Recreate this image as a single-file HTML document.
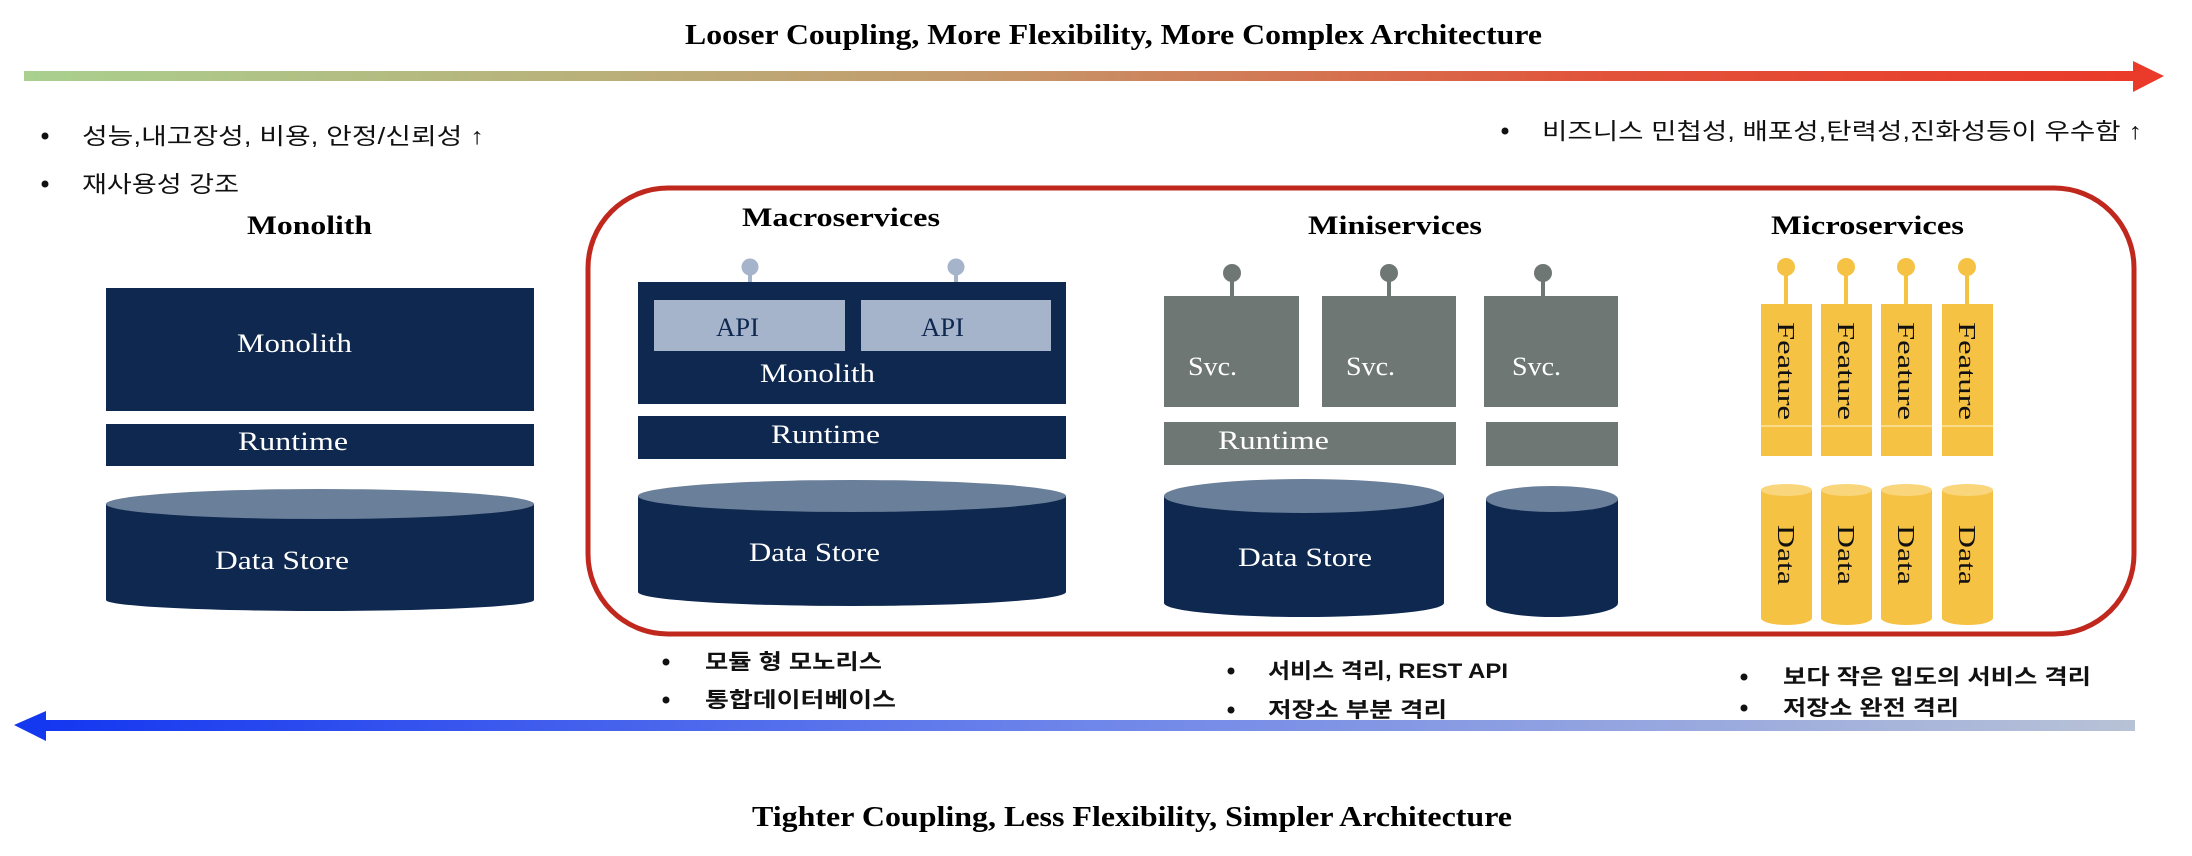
<!DOCTYPE html>
<html><head><meta charset="utf-8"><style>html,body{margin:0;padding:0;background:#fff}svg{display:block}</style></head>
<body>
<svg width="2192" height="856" viewBox="0 0 2192 856" xmlns="http://www.w3.org/2000/svg">
<defs>
<linearGradient id="gt" x1="0" x2="1"><stop offset="0" stop-color="#a9d08e"/><stop offset="0.45" stop-color="#c49a6c"/><stop offset="0.75" stop-color="#e2523a"/><stop offset="1" stop-color="#ea3a2a"/></linearGradient>
<linearGradient id="gb" x1="0" x2="1"><stop offset="0" stop-color="#1437f0"/><stop offset="0.5" stop-color="#6f86ea"/><stop offset="1" stop-color="#b8c2d6"/></linearGradient>
</defs>
<g font-family="Liberation Serif, serif" font-weight="bold" fill="#000">
<text x="685" y="44" font-size="28" textLength="857" lengthAdjust="spacingAndGlyphs">Looser Coupling, More Flexibility, More Complex Architecture</text>
<text x="752" y="826" font-size="28" textLength="760" lengthAdjust="spacingAndGlyphs">Tighter Coupling, Less Flexibility, Simpler Architecture</text>
<text x="247" y="234" font-size="26" textLength="125" lengthAdjust="spacingAndGlyphs">Monolith</text>
<text x="742" y="226" font-size="26" textLength="198" lengthAdjust="spacingAndGlyphs">Macroservices</text>
<text x="1308" y="234" font-size="26" textLength="174" lengthAdjust="spacingAndGlyphs">Miniservices</text>
<text x="1771" y="234" font-size="26" textLength="193" lengthAdjust="spacingAndGlyphs">Microservices</text>
</g>
<rect x="24" y="71" width="2112" height="10" fill="url(#gt)"/>
<polygon points="2133,61 2164,76 2133,92" fill="#ea3a2a"/>
<rect x="44" y="720" width="2091" height="11" fill="url(#gb)"/>
<polygon points="14,725 46,711 46,741" fill="#1437f0"/>
<g font-family="Liberation Sans, Noto Sans CJK KR, sans-serif" font-size="23" fill="#111">
<circle cx="45" cy="136" r="3.5"/><text x="82" y="144" textLength="402" lengthAdjust="spacingAndGlyphs">성능,내고장성, 비용, 안정/신뢰성 ↑</text>
<circle cx="45" cy="184" r="3.5"/><text x="82" y="192" textLength="157" lengthAdjust="spacingAndGlyphs">재사용성 강조</text>
<circle cx="1505" cy="131" r="3.5"/><text x="1542" y="139" textLength="600" lengthAdjust="spacingAndGlyphs">비즈니스 민첩성, 배포성,탄력성,진화성등이 우수함 ↑</text>
</g>
<g font-family="Liberation Sans, Noto Sans CJK KR, sans-serif" font-size="21" font-weight="bold" fill="#111">
<circle cx="666" cy="662" r="3.5"/><text x="705" y="669" textLength="177" lengthAdjust="spacingAndGlyphs">모듈 형 모노리스</text>
<circle cx="666" cy="700" r="3.5"/><text x="705" y="707" textLength="191" lengthAdjust="spacingAndGlyphs">통합데이터베이스</text>
<circle cx="1231" cy="671" r="3.5"/><text x="1268" y="678" textLength="240" lengthAdjust="spacingAndGlyphs">서비스 격리, REST API</text>
<circle cx="1231" cy="710" r="3.5"/><text x="1268" y="717" textLength="179" lengthAdjust="spacingAndGlyphs">저장소 부분 격리</text>
<circle cx="1744" cy="677" r="3.5"/><text x="1783" y="684" textLength="308" lengthAdjust="spacingAndGlyphs">보다 작은 입도의 서비스 격리</text>
<circle cx="1744" cy="708" r="3.5"/><text x="1783" y="715" textLength="176" lengthAdjust="spacingAndGlyphs">저장소 완전 격리</text>
</g>
<rect x="588" y="188" width="1546" height="446" rx="80" ry="80" fill="none" stroke="#c0281e" stroke-width="5"/>
<rect x="106" y="288" width="428" height="123" fill="#0e2850"/>
<rect x="106" y="424" width="428" height="42" fill="#0e2850"/>
<path d="M106 504 L106 600 A214 11 0 0 0 534 600 L534 504 Z" fill="#0e2850"/>
<ellipse cx="320" cy="504" rx="214" ry="15" fill="#6a7f99"/>
<g font-family="Liberation Serif, serif" font-size="26" fill="#fff">
<text x="237" y="352" textLength="115" lengthAdjust="spacingAndGlyphs">Monolith</text>
<text x="238" y="450" textLength="110" lengthAdjust="spacingAndGlyphs">Runtime</text>
<text x="215" y="569" textLength="134" lengthAdjust="spacingAndGlyphs">Data Store</text>
</g>
<line x1="750" y1="267" x2="750" y2="300" stroke="#a6b4cb" stroke-width="4"/>
<line x1="956" y1="267" x2="956" y2="300" stroke="#a6b4cb" stroke-width="4"/>
<rect x="638" y="282" width="428" height="122" fill="#0e2850"/>
<rect x="654" y="300" width="191" height="51" fill="#a6b4cb"/>
<rect x="861" y="300" width="190" height="51" fill="#a6b4cb"/>
<circle cx="750" cy="267" r="8.5" fill="#a6b4cb"/><circle cx="956" cy="267" r="8.5" fill="#a6b4cb"/>
<rect x="638" y="416" width="428" height="43" fill="#0e2850"/>
<path d="M638 496 L638 592 A214 14 0 0 0 1066 592 L1066 496 Z" fill="#0e2850"/>
<ellipse cx="852" cy="496" rx="214" ry="16" fill="#6a7f99"/>
<g font-family="Liberation Serif, serif" font-size="26" fill="#fff">
<text x="716" y="336" fill="#0e2850" textLength="43" lengthAdjust="spacingAndGlyphs">API</text>
<text x="921" y="336" fill="#0e2850" textLength="43" lengthAdjust="spacingAndGlyphs">API</text>
<text x="760" y="382" textLength="115" lengthAdjust="spacingAndGlyphs">Monolith</text>
<text x="771" y="443" textLength="109" lengthAdjust="spacingAndGlyphs">Runtime</text>
<text x="749" y="561" textLength="131" lengthAdjust="spacingAndGlyphs">Data Store</text>
</g>
<g fill="#6f7775">
<line x1="1232" y1="273" x2="1232" y2="296" stroke="#6f7775" stroke-width="4"/>
<line x1="1389" y1="273" x2="1389" y2="296" stroke="#6f7775" stroke-width="4"/>
<line x1="1543" y1="273" x2="1543" y2="296" stroke="#6f7775" stroke-width="4"/>
<circle cx="1232" cy="273" r="9"/><circle cx="1389" cy="273" r="9"/><circle cx="1543" cy="273" r="9"/>
<rect x="1164" y="296" width="135" height="111"/>
<rect x="1322" y="296" width="134" height="111"/>
<rect x="1484" y="296" width="134" height="111"/>
<rect x="1164" y="422" width="292" height="43"/>
<rect x="1486" y="422" width="132" height="44"/>
</g>
<path d="M1164 496 L1164 603 A140 14 0 0 0 1444 603 L1444 496 Z" fill="#0e2850"/>
<ellipse cx="1304" cy="496" rx="140" ry="17" fill="#6a7f99"/>
<path d="M1486 499 L1486 603 A66 14 0 0 0 1618 603 L1618 499 Z" fill="#0e2850"/>
<ellipse cx="1552" cy="499" rx="66" ry="13" fill="#6a7f99"/>
<g font-family="Liberation Serif, serif" font-size="26" fill="#fff">
<text x="1188" y="375" textLength="49" lengthAdjust="spacingAndGlyphs">Svc.</text>
<text x="1346" y="375" textLength="49" lengthAdjust="spacingAndGlyphs">Svc.</text>
<text x="1512" y="375" textLength="49" lengthAdjust="spacingAndGlyphs">Svc.</text>
<text x="1218" y="449" textLength="111" lengthAdjust="spacingAndGlyphs">Runtime</text>
<text x="1238" y="566" textLength="134" lengthAdjust="spacingAndGlyphs">Data Store</text>
</g>
<g fill="#f5c244">
<line x1="1786" y1="267" x2="1786" y2="304" stroke="#f5c244" stroke-width="4"/>
<line x1="1846" y1="267" x2="1846" y2="304" stroke="#f5c244" stroke-width="4"/>
<line x1="1906" y1="267" x2="1906" y2="304" stroke="#f5c244" stroke-width="4"/>
<line x1="1967" y1="267" x2="1967" y2="304" stroke="#f5c244" stroke-width="4"/>
<circle cx="1786" cy="267" r="9"/><circle cx="1846" cy="267" r="9"/><circle cx="1906" cy="267" r="9"/><circle cx="1967" cy="267" r="9"/>
<rect x="1761" y="304" width="51" height="152"/>
<rect x="1821" y="304" width="51" height="152"/>
<rect x="1881" y="304" width="51" height="152"/>
<rect x="1942" y="304" width="51" height="152"/>
<path d="M1761 490 L1761 618 A25.5 7 0 0 0 1812 618 L1812 490 Z"/>
<path d="M1821 490 L1821 618 A25.5 7 0 0 0 1872 618 L1872 490 Z"/>
<path d="M1881 490 L1881 618 A25.5 7 0 0 0 1932 618 L1932 490 Z"/>
<path d="M1942 490 L1942 618 A25.5 7 0 0 0 1993 618 L1993 490 Z"/>
</g>
<g fill="#f9d67b">
<ellipse cx="1786.5" cy="490" rx="25.5" ry="6"/><ellipse cx="1846.5" cy="490" rx="25.5" ry="6"/><ellipse cx="1906.5" cy="490" rx="25.5" ry="6"/><ellipse cx="1967.5" cy="490" rx="25.5" ry="6"/>
</g>
<g stroke="#fbe3a0" stroke-width="1.5">
<line x1="1761" y1="426" x2="1812" y2="426"/><line x1="1821" y1="426" x2="1872" y2="426"/><line x1="1881" y1="426" x2="1932" y2="426"/><line x1="1942" y1="426" x2="1993" y2="426"/>
</g>
<g font-family="Liberation Serif, serif" font-size="24" fill="#111" text-anchor="middle">
<text transform="translate(1786,371) rotate(90)" y="8" textLength="98" lengthAdjust="spacingAndGlyphs">Feature</text>
<text transform="translate(1846,371) rotate(90)" y="8" textLength="98" lengthAdjust="spacingAndGlyphs">Feature</text>
<text transform="translate(1906,371) rotate(90)" y="8" textLength="98" lengthAdjust="spacingAndGlyphs">Feature</text>
<text transform="translate(1967,371) rotate(90)" y="8" textLength="98" lengthAdjust="spacingAndGlyphs">Feature</text>
<text transform="translate(1786,555) rotate(90)" y="8" textLength="60" lengthAdjust="spacingAndGlyphs">Data</text>
<text transform="translate(1846,555) rotate(90)" y="8" textLength="60" lengthAdjust="spacingAndGlyphs">Data</text>
<text transform="translate(1906,555) rotate(90)" y="8" textLength="60" lengthAdjust="spacingAndGlyphs">Data</text>
<text transform="translate(1967,555) rotate(90)" y="8" textLength="60" lengthAdjust="spacingAndGlyphs">Data</text>
</g>
</svg>
</body></html>
